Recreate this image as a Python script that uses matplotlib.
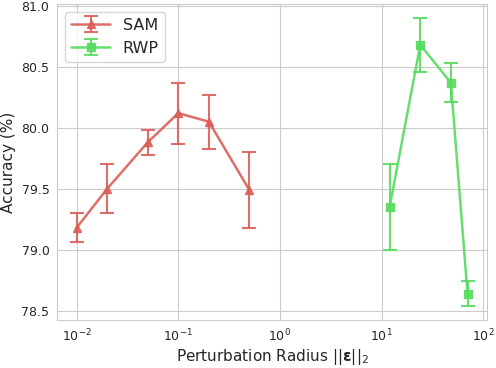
import matplotlib
matplotlib.use("Agg")
import matplotlib.pyplot as plt
import seaborn as sns

sam_x = [0.01, 0.02, 0.05, 0.1, 0.2, 0.5]
sam_y = [79.18, 79.50, 79.88, 80.12, 80.05, 79.49]
sam_err = [0.12, 0.20, 0.10, 0.25, 0.22, 0.31]

rwp_x = [12, 24, 48, 70]
rwp_y = [79.35, 80.68, 80.37, 78.64]
rwp_err = [0.35, 0.22, 0.16, 0.10]

sns.set_style("whitegrid")
colors = sns.color_palette("hls", 3)

fig, ax = plt.subplots(figsize=(4.96, 3.68), dpi=100)
ax.errorbar(sam_x, sam_y, yerr=sam_err, color=colors[0], marker='^', markersize=6,
            markerfacecolor=(*colors[0], 0.4), capsize=5, lw=1.8, elinewidth=1.5,
            capthick=1.5, label="SAM", alpha=0.9)
ax.errorbar(rwp_x, rwp_y, yerr=rwp_err, color=colors[1], marker='s', markersize=6,
            markerfacecolor=(*colors[1], 0.4), capsize=5, lw=1.8, elinewidth=1.5,
            capthick=1.5, label="RWP", alpha=0.9)
ax.set_xscale('log')
ax.set_xlabel(r"Perturbation Radius $||\mathbf{\epsilon}||_2$", fontsize=11, labelpad=2)
ax.set_ylabel("Accuracy (%)", fontsize=11)
ax.tick_params(axis='both', labelsize=9, pad=2)
ax.legend(loc='upper left', fontsize=11.5, handlelength=2.4)
fig.subplots_adjust(left=0.115, right=0.982, top=0.99, bottom=0.13)
fig.savefig("out.png")
